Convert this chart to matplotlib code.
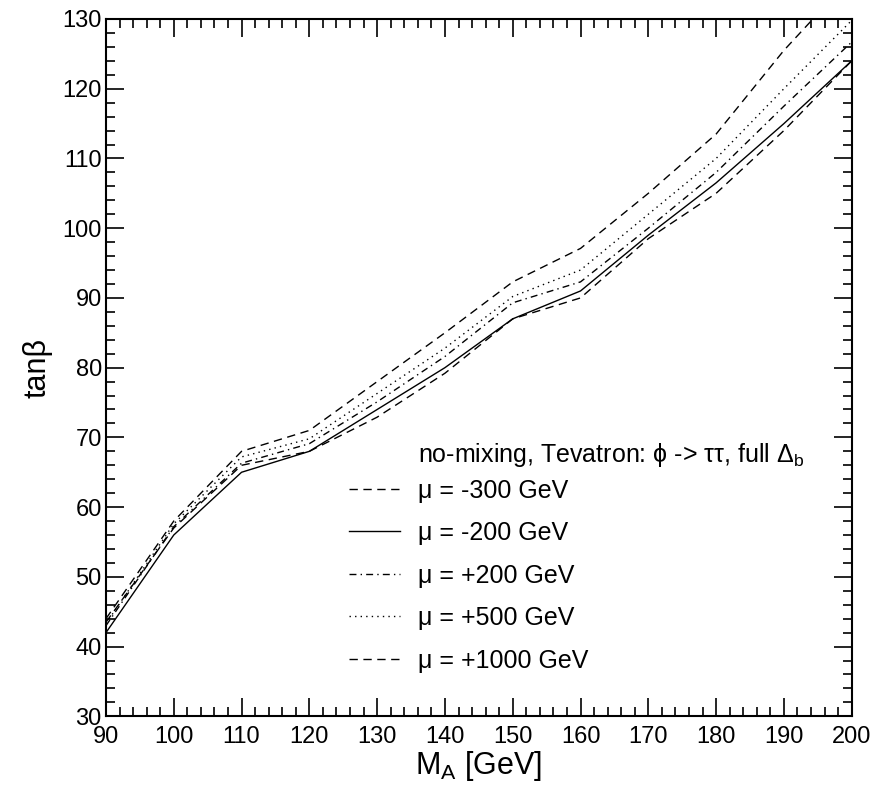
import matplotlib
matplotlib.use("Agg")
import matplotlib.pyplot as plt
from matplotlib.ticker import MultipleLocator

plt.rcParams['font.family'] = ['Liberation Sans', 'DejaVu Sans']
plt.rcParams['mathtext.fontset'] = 'custom'
plt.rcParams['mathtext.rm'] = 'Liberation Sans'
plt.rcParams['mathtext.it'] = 'Liberation Sans:italic'

# M_A grid and tan(beta) limits for each mu value
m_a = [90, 100, 110, 120, 130, 140, 150, 160, 170, 180, 190, 200]
tb_mu_m300 = [44, 58, 68, 71, 78, 85, 92.3, 97.1, 105, 113.5, 125.5, 136]
tb_mu_m200 = [42, 56, 65, 68, 74, 80, 87, 91, 99, 106.5, 115, 124]
tb_mu_p200 = [43, 57.2, 66.3, 69.1, 75.1, 81.6, 89.3, 92.3, 100, 108, 117.5, 126.7]
tb_mu_p500 = [43.3, 57.6, 67.2, 69.8, 76.3, 82.8, 90.2, 94, 102, 110, 120, 129.8]
tb_mu_p1000 = [43.5, 57, 66, 68, 72.9, 79.2, 87, 90, 98.5, 105, 114, 124]

labels = [r'μ = -300 GeV', r'μ = -200 GeV', r'μ = +200 GeV',
          r'μ = +500 GeV', r'μ = +1000 GeV']

fig = plt.figure(figsize=(8.86, 7.91), dpi=100)
ax = fig.add_axes([0.1196, 0.0944, 0.8417, 0.8816])

lw = 1.0
ax.plot(m_a, tb_mu_m300, color='black', lw=lw, ls=(0, (6, 4)), label=labels[0])
ax.plot(m_a, tb_mu_m200, color='black', lw=lw, ls='-', label=labels[1])
ax.plot(m_a, tb_mu_p200, color='black', lw=lw, ls=(0, (5, 3, 1, 3)), label=labels[2])
ax.plot(m_a, tb_mu_p500, color='black', lw=lw, ls=(0, (1, 3)), label=labels[3])
ax.plot(m_a, tb_mu_p1000, color='black', lw=lw, ls=(0, (6, 4)), label=labels[4])

ax.set_xlim(90, 200)
ax.set_ylim(30, 130)
ax.xaxis.set_major_locator(MultipleLocator(10))
ax.xaxis.set_minor_locator(MultipleLocator(2))
ax.yaxis.set_major_locator(MultipleLocator(10))
ax.yaxis.set_minor_locator(MultipleLocator(2))
ax.tick_params(which='both', direction='in', top=True, right=True, width=1.2)
ax.tick_params(which='major', length=13, labelsize=17)
ax.tick_params(axis='x', which='major', pad=7)
ax.tick_params(axis='y', which='major', pad=3)
ax.tick_params(which='minor', length=6.5)
for s in ax.spines.values():
    s.set_linewidth(1.5)

ax.set_xlabel(r'M$_\mathrm{A}$ [GeV]', fontsize=22, labelpad=1)
ax.set_ylabel('tanβ', fontsize=22, labelpad=7)

ax.text(0.418, 0.375, r'no-mixing, Tevatron: ϕ -> ττ, full Δ$_\mathrm{b}$',
        transform=ax.transAxes, fontsize=18, va='center', ha='left')
ax.legend(loc='upper left', bbox_to_anchor=(0.326, 0.341), frameon=False,
          fontsize=18, handlelength=2.05, handletextpad=0.72, labelspacing=0.74,
          borderpad=0, borderaxespad=0)

fig.savefig('out.png', dpi=100)
